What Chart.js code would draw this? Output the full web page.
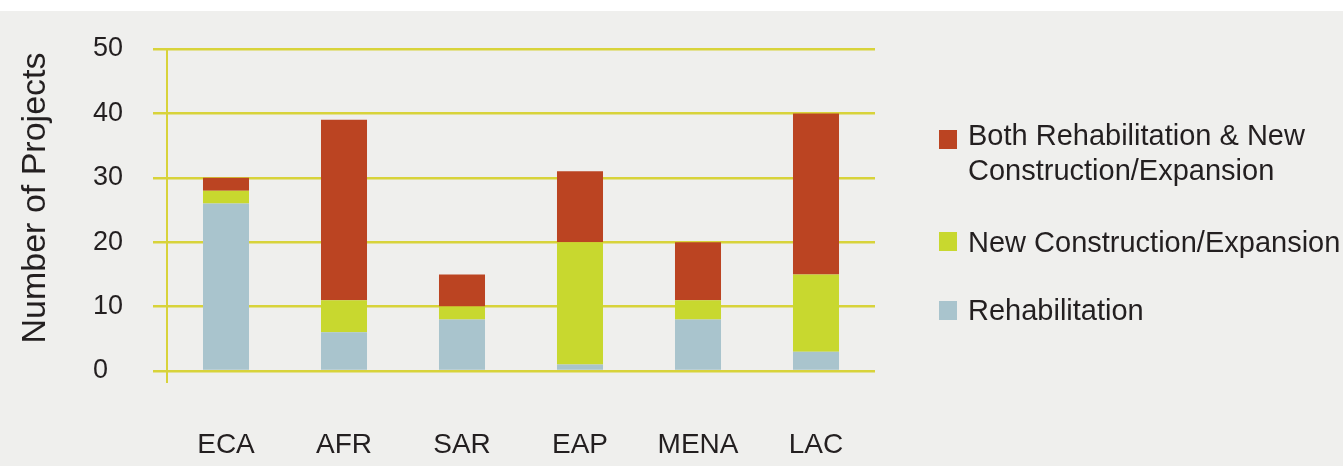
<!DOCTYPE html>
<html>
<head>
<meta charset="utf-8">
<script src="https://cdn.jsdelivr.net/npm/chart.js"></script>
<style>
  html, body { margin: 0; background: #efefed; font-family: 'Liberation Sans', Arial, Helvetica, sans-serif; }
  #wrap { position: relative; width: 1343px; height: 466px; overflow: hidden; }
  #wrap canvas { display: block; }
  #strip { position: absolute; left: 0; top: 0; width: 1343px; height: 11px; background: #ffffff; }
  .item { position: absolute; left: 968px; font-size: 29px; line-height: 35px; color: #231f20; white-space: nowrap; }
  .box { position: absolute; left: 939px; width: 18px; height: 19px; }
</style>
</head>
<body>
<div id="wrap">
  <div id="strip"></div>
  <canvas id="grafik" width="1343" height="466" style="position:absolute;left:0;top:0"></canvas>
  <div id="legend"></div>
</div>
<script>
// regions and project counts per type
const regions = ['ECA', 'AFR', 'SAR', 'EAP', 'MENA', 'LAC'];
const rehabilitation = [26, 6, 8, 1, 8, 3];
const newConstruction = [2, 5, 2, 19, 3, 12];
const bothTypes = [2, 28, 5, 11, 9, 25];
const yTicks = [0, 10, 20, 30, 40, 50];

const seriesNames = ['Rehabilitation', 'New Construction/Expansion', 'Both Rehabilitation & New Construction/Expansion'];
const warna = ['#a9c4cd', '#c8d82f', '#bb4422'];
const gridKuning = '#d8d33a';
const teks = '#231f20';
const font = "'Liberation Sans', Arial, Helvetica, sans-serif";

// rotated axis title, drawn by hand so tick labels can sit left-aligned
const judulSumbu = {
    id: 'judulSumbu',
    afterDraw(chart) {
        const ctx = chart.ctx;
        ctx.save();
        ctx.translate(36, 198);
        ctx.rotate(-Math.PI / 2);
        ctx.fillStyle = teks;
        ctx.font = '34px ' + font;
        ctx.textAlign = 'center';
        ctx.textBaseline = 'middle';
        ctx.fillText('Number of Projects', 0, 0);
        ctx.restore();
    }
};

const ctx = document.getElementById('grafik').getContext('2d');
const chart = new Chart(ctx, {
    type: 'bar',
    data: {
        labels: regions,
        datasets: [
            { label: seriesNames[0], data: rehabilitation, backgroundColor: warna[0] },
            { label: seriesNames[1], data: newConstruction, backgroundColor: warna[1] },
            { label: seriesNames[2], data: bothTypes, backgroundColor: warna[2] }
        ]
    },
    options: {
        responsive: false,
        animation: false,
        layout: { padding: { left: 93, right: 468, top: 49, bottom: 0 } },
        datasets: { bar: { barPercentage: 0.39, categoryPercentage: 1, borderWidth: 0 } },
        plugins: { legend: { display: false }, tooltip: { enabled: false } },
        scales: {
            x: {
                stacked: true,
                afterFit: s => { s.height = 95; },
                border: { display: false },
                grid: {
                    drawOnChartArea: false,
                    drawTicks: true,
                    tickLength: 12,
                    lineWidth: 2,
                    color: c => c.index === 0 ? gridKuning : 'rgba(0,0,0,0)'
                },
                ticks: { color: teks, font: { family: font, size: 28 }, padding: 45 }
            },
            y: {
                stacked: true,
                min: 0,
                max: 50,
                afterFit: s => { s.width = 74; },
                afterBuildTicks: s => { s.ticks = yTicks.map(v => ({ value: v })); },
                border: { display: true, color: gridKuning, width: 2 },
                grid: { color: gridKuning, lineWidth: 2.5, tickLength: 14 },
                ticks: { color: teks, font: { family: font, size: 27 }, crossAlign: 'far', padding: 0 }
            }
        }
    },
    plugins: [judulSumbu]
});

// legend on the right, top series first
const posisiLegend = [
    { seri: 2, teksTop: 118, kotakTop: 130 },
    { seri: 1, teksTop: 225, kotakTop: 232 },
    { seri: 0, teksTop: 293, kotakTop: 301 }
];
const legend = document.getElementById('legend');
posisiLegend.forEach(p => {
    const kotak = document.createElement('div');
    kotak.className = 'box';
    kotak.style.top = p.kotakTop + 'px';
    kotak.style.background = warna[p.seri];
    legend.appendChild(kotak);

    const item = document.createElement('div');
    item.className = 'item';
    item.style.top = p.teksTop + 'px';
    item.innerHTML = p.seri === 2 ? 'Both Rehabilitation &amp; New<br>Construction/Expansion' : seriesNames[p.seri];
    legend.appendChild(item);
});
</script>
</body>
</html>
